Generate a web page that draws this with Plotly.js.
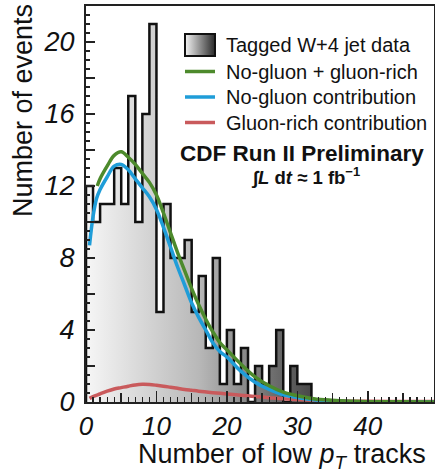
<!DOCTYPE html>
<html>
<head>
<meta charset="utf-8">
<script src="https://cdn.plot.ly/plotly-3.0.1.min.js"></script>
<style>html,body{margin:0;padding:0;background:#fff;}#chart{width:435px;height:475px;}</style>
</head>
<body>
<div id="chart"></div>
<script>
// Histogram: lower bin edges and counts (bin width 1 track)
const binLow = [0,1,2,3,4,5,6,7,8,9,10,11,12,13,14,15,16,17,18,19,20,21,22,23,24,25,26,27,28,29,30,31];
const counts = [12,10,11,11,13,11,17,10,16,21,5,11,8,8,9,5,7,3,8,1,4,1,3,0,2,1,2,4,0,2,1,1];
const binWidth = 1;

// No-gluon + gluon-rich (green)
const totX = [1.6,2,3,4,5,6,7,8,9,10,11,12,13,14,15,16,17,18,19,20,22,24,26,28,30,32,34,36,38,40,45,50];
const totY = [12.0,12.4,13.1,13.7,13.9,13.6,13.2,12.7,12.2,11.5,10.5,9.4,8.3,7.3,6.3,5.4,4.6,3.9,3.3,2.9,2.1,1.4,0.9,0.55,0.35,0.2,0.12,0.07,0.04,0.02,0.01,0];

// No-gluon contribution (blue)
const ngX = [0.5,1,1.5,2,3,4,5,6,7,8,9,10,11,12,13,14,15,16,17,18,19,20,22,24,26,28,30,32,34,36,38,40,45,50];
const ngY = [8.7,10.3,11.3,11.8,12.5,13.1,13.2,12.9,12.4,11.9,11.4,10.7,9.7,8.6,7.5,6.5,5.5,4.7,4.0,3.3,2.8,2.5,1.7,1.1,0.7,0.4,0.25,0.14,0.08,0.04,0.02,0.01,0,0];

// Gluon-rich contribution (red)
const grX = [0.5,1,2,3,4,5,6,7,8,9,10,11,12,13,14,15,16,18,20,22,24,26,28,30,32,35,40,45,50];
const grY = [0.2,0.3,0.45,0.6,0.72,0.8,0.88,0.95,0.98,0.97,0.93,0.88,0.82,0.76,0.7,0.65,0.6,0.52,0.45,0.38,0.3,0.24,0.18,0.14,0.1,0.07,0.04,0.03,0.02];

const xLabelVals = [0,10,20,30,40];
const xLabelText = ['0','10','20','30','40'];
const yLabelVals = [0,4,8,12,16,20];
const yLabelText = ['0','4','8','12','16','20'];

const legendNames = ['Tagged W+4 jet data','No-gluon + gluon-rich','No-gluon contribution','Gluon-rich contribution'];
const legendColors = [null,'#4d8a2c','#1f9dd8','#c95a5c'];

// Step outline built from the bins
const stepX = [binLow[0]].concat(binLow, [binLow[binLow.length-1] + binWidth]);
const stepY = [0].concat(counts, [0]);

const FONT = 'Liberation Sans, Arial, sans-serif';
const XR = [0, 49.4], YR = [0, 22];

const traces = [
  {
    type: 'scatter', mode: 'lines', x: stepX, y: stepY,
    line: {shape: 'hv', color: '#111', width: 2.5},
    fill: 'tozeroy',
    fillgradient: {type: 'horizontal', start: 0, stop: 32,
      colorscale: [[0, '#f6f6f6'], [0.5, '#b8b8b8'], [1, '#484848']]},
    name: legendNames[0], showlegend: false
  },
  {type: 'scatter', mode: 'lines', x: grX, y: grY, line: {color: legendColors[3], width: 3.5, shape: 'spline'},
   name: legendNames[3], showlegend: false},
  {type: 'scatter', mode: 'lines', x: ngX, y: ngY, line: {color: legendColors[2], width: 3.5, shape: 'spline'},
   name: legendNames[2], showlegend: false},
  {type: 'scatter', mode: 'lines', x: totX, y: totY, line: {color: legendColors[1], width: 3.5, shape: 'spline'},
   name: legendNames[1], showlegend: false},
  // invisible helper trace to activate the tick-only axes
  {type: 'scatter', mode: 'none', x: [0], y: [0], xaxis: 'x2', yaxis: 'y2', showlegend: false, hoverinfo: 'skip'}
];

const tickFontX = {family: FONT, size: 26, color: '#111', style: 'italic'};
const tickFontY = {family: FONT, size: 27, color: '#111', style: 'italic'};

// Manual legend geometry (paper coordinates)
const pxX = px => (px - 86) / 348;
const pxY = py => (402 - py) / 396;
const rowY = [45, 71.5, 97, 122.5];

const shapes = [];
const annotations = [];
for (let i = 0; i < legendNames.length; i++) {
  annotations.push({text: legendNames[i], xref: 'paper', yref: 'paper',
    x: pxX(224), y: pxY(rowY[i]), xanchor: 'left', yanchor: 'middle', showarrow: false,
    font: {family: FONT, size: 20, color: '#111'}});
  if (legendColors[i]) {
    shapes.push({type: 'line', xref: 'paper', yref: 'paper',
      x0: pxX(185), x1: pxX(215), y0: pxY(rowY[i]), y1: pxY(rowY[i]),
      line: {color: legendColors[i], width: 3.5}});
  }
}
shapes.push({type: 'rect', xref: 'paper', yref: 'paper',
  x0: pxX(185), x1: pxX(215), y0: pxY(rowY[0] - 11), y1: pxY(rowY[0] + 11),
  line: {color: '#111', width: 2}, fillcolor: 'rgba(0,0,0,0)'});

const gradSvg = "<svg xmlns='http://www.w3.org/2000/svg' width='30' height='22' preserveAspectRatio='none'>" +
  "<defs><linearGradient id='g' x1='0' x2='1' y1='0' y2='0'><stop offset='0' stop-color='#f4f4f4'/>" +
  "<stop offset='1' stop-color='#2a2a2a'/></linearGradient></defs><rect width='30' height='22' fill='url(#g)'/></svg>";

annotations.push(
  {text: 'Number of low <i>p</i><sub><i>T</i></sub> tracks', xref: 'paper', yref: 'paper',
   x: pxX(282), y: pxY(456), xanchor: 'center', yanchor: 'middle', showarrow: false,
   font: {family: FONT, size: 27, color: '#111'}},
  {text: 'Number of events', xref: 'paper', yref: 'paper', textangle: -90,
   x: pxX(23), y: pxY(111), xanchor: 'center', yanchor: 'middle', showarrow: false,
   font: {family: FONT, size: 27, color: '#111'}},
  {text: '<b>CDF Run II Preliminary</b>', xref: 'paper', yref: 'paper',
   x: pxX(302), y: pxY(153), xanchor: 'center', yanchor: 'middle', showarrow: false,
   font: {family: FONT, size: 22.5, color: '#111'}},
  {text: '<b>∫<i>L</i> d<i>t</i> ≈ 1 fb<sup>−1</sup></b>', xref: 'paper', yref: 'paper',
   x: pxX(305), y: pxY(176), xanchor: 'center', yanchor: 'middle', showarrow: false,
   font: {family: FONT, size: 18.5, color: '#111'}}
);

const layout = {
  width: 435, height: 475,
  margin: {l: 86, r: 1, t: 6, b: 73},
  paper_bgcolor: '#fff', plot_bgcolor: '#fff',
  showlegend: false,
  xaxis: {range: XR, tickvals: xLabelVals, ticktext: xLabelText,
    ticks: 'inside', ticklen: 11, tickwidth: 1.5, tickcolor: '#222',
    minor: {dtick: 1, ticks: 'inside', ticklen: 5, tickwidth: 1.2, tickcolor: '#222'},
    showline: true, linewidth: 2, linecolor: '#222', mirror: true,
    showgrid: false, zeroline: false, tickfont: tickFontX, ticklabelstandoff: 0},
  yaxis: {range: YR, tickvals: yLabelVals, ticktext: yLabelText,
    ticks: 'inside', ticklen: 9, tickwidth: 1.5, tickcolor: '#222',
    minor: {dtick: 0.5, ticks: 'inside', ticklen: 4, tickwidth: 1.2, tickcolor: '#222'},
    showline: true, linewidth: 2, linecolor: '#222', mirror: true,
    showgrid: false, zeroline: false, tickfont: tickFontY, ticklabelstandoff: 4},
  xaxis2: {overlaying: 'x', range: XR, dtick: 5, tick0: 0, ticks: 'inside', ticklen: 9, tickwidth: 1.5,
    tickcolor: '#222', showticklabels: false, showgrid: false, zeroline: false, showline: false, side: 'bottom'},
  yaxis2: {overlaying: 'y', range: YR, dtick: 2, tick0: 0, ticks: 'inside', ticklen: 9, tickwidth: 1.5,
    tickcolor: '#222', showticklabels: false, showgrid: false, zeroline: false, showline: false, side: 'left'},
  shapes: shapes,
  images: [{source: 'data:image/svg+xml;charset=utf-8,' + encodeURIComponent(gradSvg),
    xref: 'paper', yref: 'paper', x: pxX(185), y: pxY(rowY[0] - 11),
    sizex: 30 / 348, sizey: 22 / 396, xanchor: 'left', yanchor: 'top',
    sizing: 'stretch', layer: 'above'}],
  annotations: annotations
};

Plotly.newPlot('chart', traces, layout, {displayModeBar: false, staticPlot: true});
</script>
</body>
</html>
